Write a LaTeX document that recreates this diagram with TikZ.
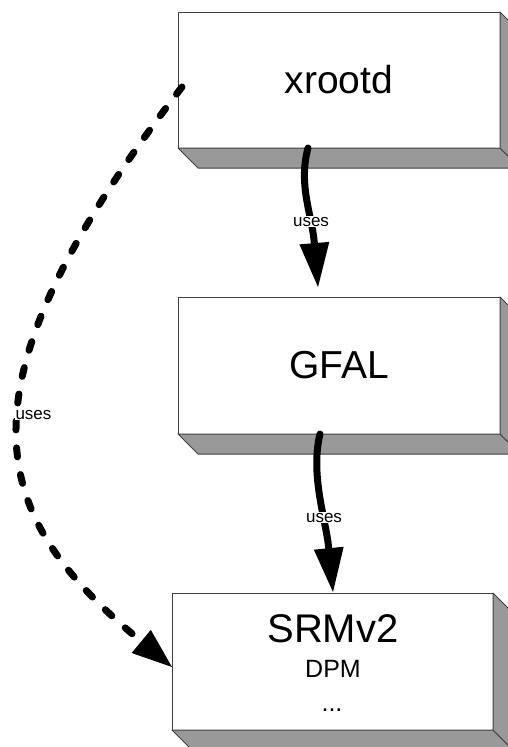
\documentclass[tikz,border=0pt]{standalone}
\usepackage{fontspec}
\setmainfont{Liberation Sans}
\usetikzlibrary{arrows.meta,calc}
\begin{document}
\begin{tikzpicture}[x=1pt,y=-1pt,
  face/.style={rectangle, draw=black!75, line width=1pt, fill=white, inner sep=0pt, outer sep=0pt},
  side/.style={draw=black!75, line width=1pt, fill=black!40, line join=round},
  usestext/.style={fill=white, inner sep=1pt, font=\fontsize{17}{19}\selectfont},
  flow/.style={line width=7pt, line cap=round, -{Triangle[width=30pt,length=44pt,line width=0pt]}},
  dflow/.style={line width=7pt, line cap=round, dash pattern=on 9pt off 18pt, -{Triangle[width=30pt,length=40pt,line width=0pt]}},
  big/.style={font=\fontsize{39}{41}\selectfont},
]
\useasboundingbox (0,0) rectangle (508,747);
\fill[white] (0,0) rectangle (508,747);

% xrootd
\node[face, big, minimum width=322pt, minimum height=136pt] (x) at (339,80) {xrootd};
\draw[side] (x.south west) -- (x.south east) -- ($(x.south east)+(20,20)$) -- ($(x.south west)+(20,20)$) -- cycle;
\draw[side] (x.north east) -- ($(x.north east)+(20,20)$) -- ($(x.south east)+(20,20)$) -- (x.south east) -- cycle;

% GFAL
\node[face, big, minimum width=322pt, minimum height=137pt] (g) at (339,365.5) {GFAL};
\draw[side] (g.south west) -- (g.south east) -- ($(g.south east)+(20,20)$) -- ($(g.south west)+(20,20)$) -- cycle;
\draw[side] (g.north east) -- ($(g.north east)+(20,20)$) -- ($(g.south east)+(20,20)$) -- (g.south east) -- cycle;

% SRMv2
\node[face, minimum width=321pt, minimum height=137pt] (s) at (332.5,661.5) {};
\draw[side] (s.south west) -- (s.south east) -- ($(s.south east)+(20,20)$) -- ($(s.south west)+(20,20)$) -- cycle;
\draw[side] (s.north east) -- ($(s.north east)+(20,20)$) -- ($(s.south east)+(20,20)$) -- (s.south east) -- cycle;
\node[anchor=base, font=\fontsize{40}{42}\selectfont] (s1) at (333,642) {SRMv2};
\node[anchor=base, font=\fontsize{25}{27}\selectfont] (s2) at (333,677) {DPM};
\node[anchor=base, font=\fontsize{25}{27}\selectfont] (s3) at (332,711) {...};

% connectors
\draw[flow] ([xshift=-31pt]x.south) .. controls (298,185) and (312,215) .. ([xshift=-21pt,yshift=10pt]g.north);
\draw[flow] ([xshift=-19pt]g.south) .. controls (310,475) and (326,520) .. ([xshift=0.5pt,yshift=1pt]s.north);
\draw[dflow] ([xshift=4pt,yshift=-7pt]x.west) .. controls (-60,400) and (-5,520) .. ([yshift=-5.5pt]s.west);

% labels
\node[usestext, anchor=base] (u1) at (311,226) {uses};
\node[usestext, anchor=base] (u2) at (324,522) {uses};
\node[usestext, anchor=base] (u3) at (33.5,419) {uses};
\end{tikzpicture}
\end{document}
